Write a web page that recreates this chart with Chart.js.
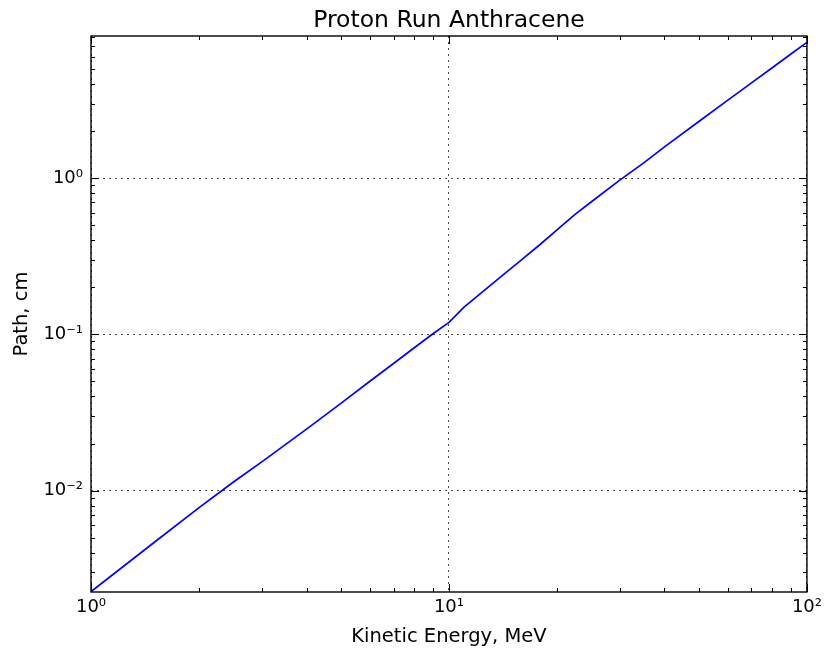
<!DOCTYPE html>
<html>
<head>
<meta charset="utf-8">
<script src="https://cdn.jsdelivr.net/npm/chart.js@4.4.1/dist/chart.umd.min.js"></script>
<style>
  html, body { margin: 0; padding: 0; background: #fff; }
  #wrap { width: 827px; height: 653px; }
</style>
</head>
<body>
<div id="wrap"><canvas id="c" width="827" height="653"></canvas></div>
<script>
// Kinetic energy (MeV)
const energies = [1, 1.5, 2, 2.5, 3, 4, 5, 6, 7, 8, 9, 10, 11, 12, 14, 16, 18, 20, 22.5, 25, 30, 35, 40, 50, 60, 70, 80, 90, 100];
// Path (cm)
const paths = [0.00225, 0.00465, 0.00775, 0.01133, 0.01526, 0.02472, 0.0363, 0.0499, 0.0651, 0.0820, 0.1004, 0.1193, 0.149, 0.1757, 0.2347, 0.3016, 0.3773, 0.4653, 0.586, 0.7064, 0.972, 1.252, 1.587, 2.315, 3.145, 4.073, 5.095, 6.207, 7.406];

const xTickValues = [1, 10, 100];
const xTickLabels = ['10\u2070', '10\u00b9', '10\u00b2'];
const yTickValues = [0.01, 0.1, 1];
const yTickLabels = ['10\u207b\u00b2', '10\u207b\u00b9', '10\u2070'];

const titleText = 'Proton Run Anthracene';
const xTitle = 'Kinetic Energy, MeV';
const yTitle = 'Path, cm';

const FONT = "'DejaVu Sans', sans-serif";

const points = energies.map((e, i) => ({ x: e, y: paths[i] }));

function logTicks(min, max) {
  const out = [];
  for (let d = Math.floor(Math.log10(min)); d <= Math.ceil(Math.log10(max)); d++) {
    for (let m = 1; m <= 9; m++) {
      const v = m * Math.pow(10, d);
      if (v >= min * 0.9999 && v <= max * 1.0001) out.push({ v, major: m === 1 });
    }
  }
  return out;
}

const frameTicks = {
  id: 'frameTicks',
  afterDraw(chart) {
    const ctx = chart.ctx;
    const a = chart.chartArea;
    const xs = chart.scales.x, ys = chart.scales.y;
    ctx.save();
    ctx.strokeStyle = '#000';
    ctx.lineWidth = 1;
    ctx.beginPath();
    logTicks(xs.min, xs.max).forEach(t => {
      const px = Math.round(xs.getPixelForValue(t.v)) + 0.5;
      const len = t.major ? 8 : 4;
      ctx.moveTo(px, a.bottom); ctx.lineTo(px, a.bottom - len);
      ctx.moveTo(px, a.top); ctx.lineTo(px, a.top + len);
    });
    logTicks(ys.min, ys.max).forEach(t => {
      const py = Math.round(ys.getPixelForValue(t.v)) + 0.5;
      const len = t.major ? 8 : 4;
      ctx.moveTo(a.left, py); ctx.lineTo(a.left + len, py);
      ctx.moveTo(a.right, py); ctx.lineTo(a.right - len, py);
    });
    ctx.stroke();
    ctx.lineWidth = 1.4;
    ctx.strokeRect(a.left, a.top, a.right - a.left, a.bottom - a.top);
    ctx.restore();
  }
};

new Chart(document.getElementById('c'), {
  type: 'line',
  data: {
    datasets: [{
      data: points,
      borderColor: '#0000ff',
      borderWidth: 1.7,
      pointRadius: 0,
      fill: false,
      tension: 0
    }]
  },
  options: {
    responsive: false,
    animation: false,
    layout: { padding: { left: 0, right: 19, top: 0, bottom: 0 } },
    plugins: {
      legend: { display: false },
      tooltip: { enabled: false },
      title: {
        display: true,
        fullSize: false,
        text: titleText,
        color: '#000',
        font: { family: FONT, size: 23.5, weight: 'normal' },
        padding: { top: 6.4, bottom: 1.4 }
      }
    },
    scales: {
      x: {
        type: 'logarithmic',
        min: 1,
        max: 100,
        afterBuildTicks(scale) {
          scale.ticks = xTickValues.map(v => ({ value: v, major: true }));
        },
        afterFit(scale) { scale.height = 61; },
        grid: {
          display: true,
          color: 'rgba(0,0,0,0.7)',
          lineWidth: 1,
          drawTicks: false,
          drawOnChartArea: true
        },
        border: { display: false, dash: [2, 4] },
        ticks: {
          color: '#000',
          font: { family: FONT, size: 18 },
          padding: 5,
          maxRotation: 0,
          autoSkip: false,
          callback(value) {
            const i = xTickValues.findIndex(v => Math.abs(v - value) / v < 1e-6);
            return i >= 0 ? xTickLabels[i] : '';
          }
        },
        title: {
          display: true,
          text: xTitle,
          color: '#000',
          font: { family: FONT, size: 19.5 },
          padding: { top: 0, bottom: 4.3 }
        }
      },
      y: {
        type: 'logarithmic',
        min: 0.00224,
        max: 8.13,
        afterBuildTicks(scale) {
          scale.ticks = yTickValues.map(v => ({ value: v, major: true }));
        },
        afterFit(scale) { scale.width = 91; },
        grid: {
          display: true,
          color: 'rgba(0,0,0,0.7)',
          lineWidth: 1,
          drawTicks: false,
          drawOnChartArea: true
        },
        border: { display: false, dash: [2, 4] },
        ticks: {
          color: '#000',
          font: { family: FONT, size: 18 },
          padding: 8,
          autoSkip: false,
          callback(value) {
            const i = yTickValues.findIndex(v => Math.abs(v - value) / v < 1e-6);
            return i >= 0 ? yTickLabels[i] : '';
          }
        },
        title: {
          display: true,
          text: yTitle,
          color: '#000',
          font: { family: FONT, size: 19.5 },
          padding: { top: 10, bottom: 0 }
        }
      }
    }
  },
  plugins: [frameTicks]
});
</script>
</body>
</html>
